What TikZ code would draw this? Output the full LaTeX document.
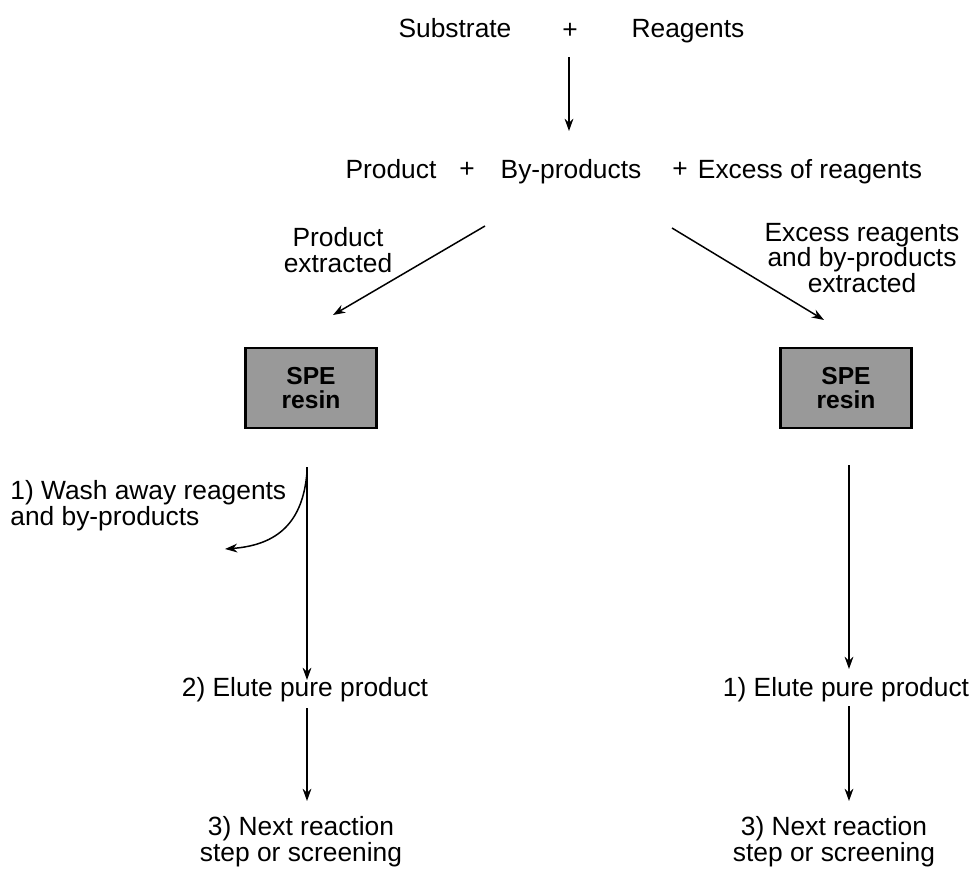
\documentclass[tikz,border=0pt]{standalone}
\usepackage{fontspec}
\setmainfont{Liberation Sans}
\usetikzlibrary{arrows.meta}
\begin{document}
\begin{tikzpicture}[x=0.02cm,y=-0.02cm,
  lbl/.style={font=\fontsize{15}{14.7}\selectfont, inner sep=0pt, align=center},
  bl/.style={lbl, anchor=base},
  arr/.style={line width=0.85pt, -{Stealth[length=7pt,width=5pt]}},
  spe/.style={draw, line width=1.3pt, fill=black!40, minimum width=2.62cm, minimum height=1.6cm,
    inner sep=0pt, align=center, font=\fontsize{14}{13.6}\selectfont\bfseries}]
\useasboundingbox (0,0) rectangle (975,872);

% top row
\node[bl] (sub) at (455,37.5) {Substrate};
\node[bl] (p0) at (570,38) {+};
\node[bl] (rea) at (688,37.5) {Reagents};

% second row
\node[bl] (prod) at (391,178) {Product};
\node[bl] (p1) at (467,177) {+};
\node[bl] (byp) at (571,178) {By-products};
\node[bl] (p2) at (680,177) {+};
\node[bl] (exc) at (810,178) {Excess of reagents};

\coordinate (a0s) at (569,57);
\coordinate (a0e) at (569,131);
\draw[arr] (a0s) -- (a0e);

% branch arrows
\coordinate (als) at (485,226);
\coordinate (ale) at (333,315);
\draw[arr] (als) -- (ale);
\node[lbl] (lx) at (338,250) {Product\\extracted};

\coordinate (ars) at (672,228);
\coordinate (are) at (824,320);
\draw[arr] (ars) -- (are);
\node[lbl] (rx) at (862,258) {Excess reagents\\and by-products\\extracted};

% SPE boxes
\node[spe] (spe1) at (311,388) {SPE\\resin};
\node[spe] (spe2) at (846,388) {SPE\\resin};

% left column
\coordinate (l1s) at (307,467);
\coordinate (l1e) at (307,680);
\draw[arr] (l1s) -- (l1e);
\coordinate (wcs) at (307,472);
\coordinate (wce) at (225,549);
\draw[arr] (wcs) .. controls (303,522) and (278,545) .. (wce);
\node[lbl, align=left, anchor=west] (wash) at (10,506) {1) Wash away reagents\\and by-products};

\node[bl] (el1) at (305,696) {2) Elute pure product};
\coordinate (l2s) at (307,708);
\coordinate (l2e) at (307,801);
\draw[arr] (l2s) -- (l2e);
\node[lbl] (nx1) at (301,842) {3) Next reaction\\step or screening};

% right column
\coordinate (r1s) at (849,465);
\coordinate (r1e) at (849,669);
\draw[arr] (r1s) -- (r1e);
\node[bl] (el2) at (846,696) {1) Elute pure product};
\coordinate (r2s) at (849,706);
\coordinate (r2e) at (849,801);
\draw[arr] (r2s) -- (r2e);
\node[lbl] (nx2) at (834,842) {3) Next reaction\\step or screening};
\end{tikzpicture}
\end{document}
